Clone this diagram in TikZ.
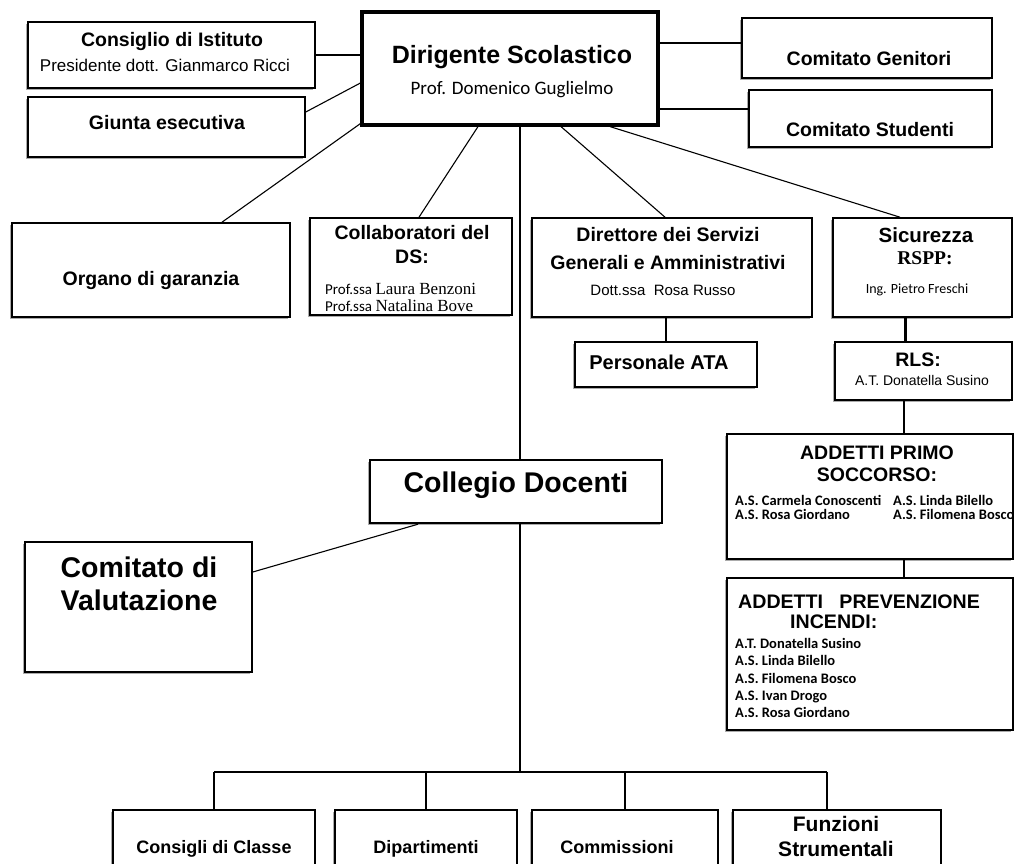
\documentclass[tikz,border=0pt]{standalone}
\usepackage{fontspec}
\setmainfont{Liberation Sans}
\newfontfamily\carlito{Carlito}
\newfontfamily\timesfont{Liberation Serif}
\usetikzlibrary{shadows}
\newcommand\fs[2]{\fontsize{#1pt}{#2pt}\selectfont}

\begin{document}
\begin{tikzpicture}[x=1pt,y=-1pt,
    orgbox/.style={draw,fill=white,line width=1.6pt,inner sep=0pt,
      drop shadow={shadow xshift=-2pt,shadow yshift=-2pt,fill=black!55,opacity=0.6}},
    conn/.style={line width=1.1pt},
    thickconn/.style={line width=2.6pt},
    txt/.style={inner sep=0pt,align=center}]
  \useasboundingbox (0,0) rectangle (1015,864);
  \fill[white] (0,0) rectangle (1015,864);
  \clip (0,0) rectangle (1015,864);

  % top level
  \node[orgbox,minimum width=296pt,minimum height=113pt,line width=3.2pt] (ds) at (510,68.5) {};
  \node[orgbox,minimum width=287pt,minimum height=66pt] (cdi) at (171.5,55) {};
  \node[orgbox,minimum width=277pt,minimum height=60pt] (giunta) at (166.5,127) {};
  \node[orgbox,minimum width=250pt,minimum height=60pt] (genitori) at (867,48) {};
  \node[orgbox,minimum width=243pt,minimum height=57pt] (studenti) at (870.5,118.5) {};

  % second row
  \node[orgbox,minimum width=278pt,minimum height=94pt] (organo) at (151,270) {};
  \node[orgbox,minimum width=202pt,minimum height=97pt] (collab) at (411,266.5) {};
  \node[orgbox,minimum width=280pt,minimum height=99pt] (dsga) at (672,267.5) {};
  \node[orgbox,minimum width=179pt,minimum height=99pt] (sicur) at (922.5,267.5) {};
  \node[orgbox,minimum width=182pt,minimum height=45pt] (ata) at (666,364.5) {};
  \node[orgbox,minimum width=177pt,minimum height=58pt] (rls) at (923.5,371) {};

  % sicurezza
  \node[orgbox,minimum width=286pt,minimum height=125pt] (primo) at (870,496.5) {};
  \node[orgbox,minimum width=286pt,minimum height=152pt] (incendi) at (870,654) {};

  % collegio
  \node[orgbox,minimum width=292pt,minimum height=63pt,line width=2.4pt] (collegio) at (516,491.5) {};
  \node[orgbox,minimum width=227pt,minimum height=130pt] (valut) at (138.5,607) {};

  % bottom row
  \node[orgbox,minimum width=202pt,minimum height=70pt] (consigli) at (214,845) {};
  \node[orgbox,minimum width=182pt,minimum height=70pt] (dip) at (426,845) {};
  \node[orgbox,minimum width=186pt,minimum height=70pt] (comm) at (625,845) {};
  \node[orgbox,minimum width=208pt,minimum height=70pt] (funz) at (837,845) {};

  % connectors
  \coordinate (dsgen) at ([yshift=25.5pt]ds.east);
  \coordinate (dsstu) at ([yshift=-40.5pt]ds.east);
  \draw[conn] (cdi.east) -- (ds.west |- cdi.east);
  \draw[conn] ([yshift=15pt]giunta.east) -- ([yshift=-14.5pt]ds.west);
  \draw[conn] ([yshift=3pt]ds.south west) -- ([xshift=71pt]organo.north);
  \draw[conn] ([xshift=-32pt]ds.south) -- ([xshift=8pt]collab.north);
  \draw[conn] ([xshift=51pt]ds.south) -- ([xshift=-7pt]dsga.north);
  \draw[conn] ([xshift=100pt]ds.south) -- ([xshift=-22.5pt]sicur.north);
  \draw[conn] (dsgen) -- (dsgen -| genitori.west);
  \draw[conn] (dsstu) -- (dsstu -| studenti.west);

  \coordinate (rlsin) at ([xshift=-18pt]rls.north);
  \coordinate (primoin) at ([xshift=34pt]primo.north);
  \coordinate (incin) at ([xshift=34pt]incendi.north);
  \draw[thickconn] (ata.north |- dsga.south) -- (ata.north);
  \draw[thickconn] (rlsin |- sicur.south) -- (rlsin);
  \draw[thickconn] (primoin |- rls.south) -- (primoin);
  \draw[conn] (incin |- primo.south) -- (incin);

  \coordinate (busmid) at (520,772);
  \coordinate (funzin) at ([xshift=-10pt]funz.north);
  \draw[conn] (busmid |- ds.south) -- (busmid |- collegio.north);
  \draw[conn] (busmid |- collegio.south) -- (busmid);
  \draw[conn] ([xshift=-98pt]collegio.south) -- ([yshift=35pt]valut.east);
  \draw[conn] (consigli |- busmid) -- (funzin |- busmid);
  \foreach \b in {consigli,dip,comm,funzin}
    \draw[conn] (\b |- busmid) -- (\b);

  % texts
  \node[txt,font=\bfseries\fs{19.5}{22}] at (172,42) {Consiglio di Istituto};
  \node[txt,font=\fs{17}{20}] at (165,65) {Presidente dott. Gianmarco Ricci};
  \node[txt,font=\bfseries\fs{19.5}{22}] at (167,123) {Giunta esecutiva};
  \node[txt,font=\bfseries\fs{25}{28}] at (512,57) {Dirigente Scolastico};
  \node[txt,font=\carlito\fs{19}{22}] at (512,90) {Prof. Domenico Guglielmo};
  \node[txt,font=\bfseries\fs{19.5}{22}] at (869,59) {Comitato Genitori};
  \node[txt,font=\bfseries\fs{19.5}{22}] at (870,130) {Comitato Studenti};
  \node[txt,font=\bfseries\fs{19.5}{22}] at (151,280) {Organo di garanzia};
  \node[txt,font=\bfseries\fs{19.5}{24}] at (412,245) {Collaboratori del\\DS:};
  \node[txt,align=left,anchor=west,font=\carlito\fs{15}{17}] at (325,297)
    {Prof.ssa {\timesfont\fs{17}{17}Laura Benzoni}\\Prof.ssa {\timesfont\fs{17}{17}Natalina Bove}};
  \node[txt,font=\bfseries\fs{19.5}{28}] at (668,249) {Direttore dei Servizi\\Generali e Amministrativi};
  \node[txt,font=\fs{15}{17}] at (663,290) {Dott.ssa\ \ Rosa Russo};
  \node[txt,font=\bfseries\fs{20.5}{22}] at (926,235) {Sicurezza};
  \node[txt,font=\timesfont\bfseries\fs{19.5}{22}] at (925,258) {RSPP:};
  \node[txt,font=\carlito\fs{14}{16}] at (917,290) {Ing. Pietro Freschi};
  \node[txt,font=\bfseries\fs{20}{22}] at (659,362) {Personale ATA};
  \node[txt,font=\bfseries\fs{19.5}{22}] at (918,360) {RLS:};
  \node[txt,font=\fs{14}{16}] at (922,380) {A.T. Donatella Susino};
  \node[txt,font=\bfseries\fs{19.5}{22}] at (877,464) {ADDETTI PRIMO\\SOCCORSO:};
  \node[txt,align=left,anchor=west,font=\carlito\bfseries\fs{14.5}{14}] at (735,507)
    {A.S. Carmela Conoscenti\\A.S. Rosa Giordano};
  \node[txt,align=left,anchor=west,font=\carlito\bfseries\fs{14.5}{14}] at (893,507)
    {A.S. Linda Bilello\\A.S. Filomena Bosco};
  \node[txt,anchor=west,font=\bfseries\fs{19.6}{22}] at (738,602) {ADDETTI\ \ \ PREVENZIONE};
  \node[txt,anchor=west,font=\bfseries\fs{19.6}{22}] at (790,622) {INCENDI:};
  \node[txt,align=left,anchor=west,font=\carlito\bfseries\fs{14.5}{17.2}] at (735,678)
    {A.T. Donatella Susino\\A.S. Linda Bilello\\A.S. Filomena Bosco\\A.S. Ivan Drogo\\A.S. Rosa Giordano};
  \node[txt,font=\bfseries\fs{28.5}{30}] at (516,485) {Collegio Docenti};
  \node[txt,font=\bfseries\fs{28.5}{33}] at (139,584) {Comitato di\\Valutazione};
  \node[txt,font=\bfseries\fs{18}{20}] at (214,849) {Consigli di Classe};
  \node[txt,font=\bfseries\fs{18}{20}] at (426,849) {Dipartimenti};
  \node[txt,font=\bfseries\fs{18}{20}] at (617,847) {Commissioni};
  \node[txt,font=\bfseries\fs{21}{25}] at (836,836) {Funzioni\\Strumentali};
\end{tikzpicture}
\end{document}
